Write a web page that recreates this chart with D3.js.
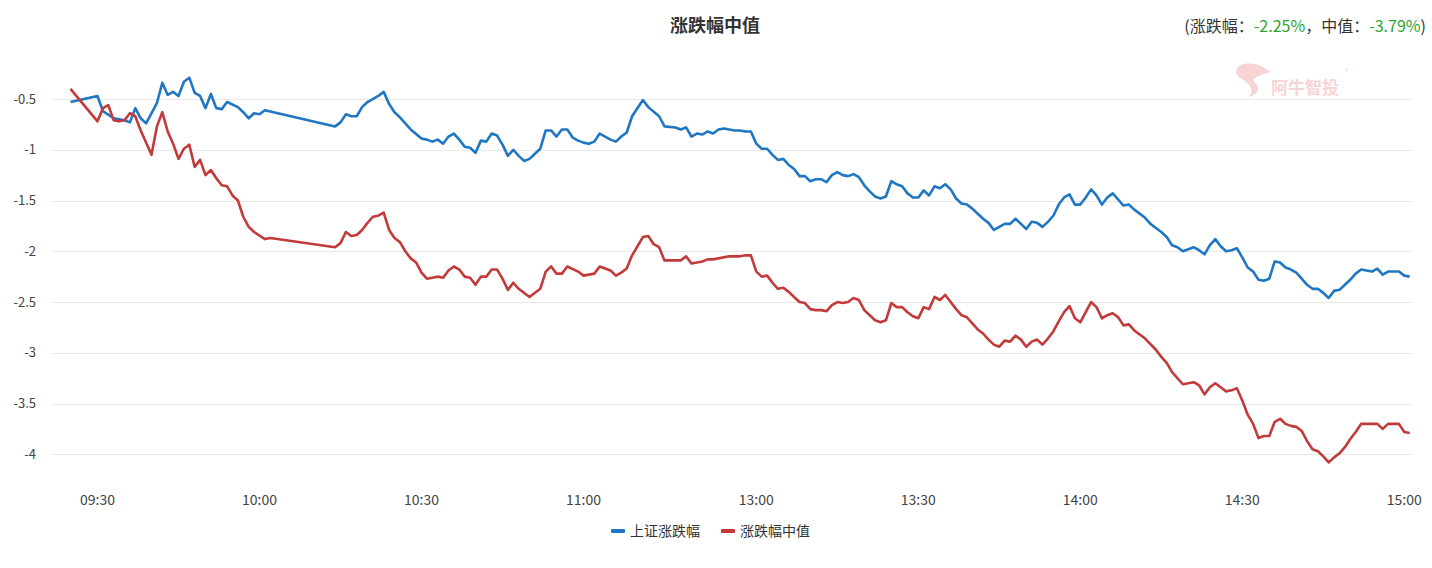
<!DOCTYPE html>
<html><head><meta charset="utf-8">
<script src="https://cdn.jsdelivr.net/npm/d3@7"></script>
<style>body{margin:0;background:#fff} svg{display:block}</style>
</head><body><svg id="c" width="1432" height="568"></svg>
<script>
// minute slots: 0 = 09:25, 5 = 09:30 ... 125 = 11:30, 127 = 13:00 ... 247 = 15:00
const tickSlots = [5, 35, 65, 95, 127, 157, 187, 217, 247];
const tickLabels = ["09:30","10:00","10:30","11:00","13:00","13:30","14:00","14:30","15:00"];
const yTicks = [-0.5,-1,-1.5,-2,-2.5,-3,-3.5,-4];
const yTickLabels = ["-0.5","-1","-1.5","-2","-2.5","-3","-3.5","-4"];
const seriesNames = ["上证涨跌幅","涨跌幅中值"];

const shSlots = [0,5,6,8,10,11,12,13,14,16,17,18,19,20,21,22,23,24,25,26,27,28,29,31,32,33,34,35,36,49,50,51,52,53,54,55,57,58,59,60,61,63,65,66,67,68,69,70,71,72,73,74,75,76,77,78,79,80,81,82,83,84,85,86,87,88,89,90,91,92,93,94,95,96,97,98,99,100,101,102,103,104,106,107,109,110,112,113,114,115,116,117,118,119,120,121,122,123,124,125,126,127,128,129,130,131,132,133,134,135,136,137,138,139,140,141,142,143,144,145,146,147,148,149,150,151,152,153,154,155,156,157,158,159,160,161,162,163,164,165,166,167,168,169,170,171,172,173,174,175,176,177,178,179,180,181,182,183,184,185,186,187,188,189,190,191,192,193,194,195,196,197,199,200,201,202,203,204,205,206,207,208,209,210,211,212,213,214,215,216,217,218,219,220,221,222,223,224,225,226,227,228,229,230,231,232,233,234,235,236,237,238,239,240,241,242,243,244,246,247,248];
const shValues = [-0.53,-0.47,-0.62,-0.69,-0.71,-0.73,-0.59,-0.69,-0.74,-0.54,-0.34,-0.46,-0.43,-0.47,-0.33,-0.29,-0.44,-0.47,-0.59,-0.45,-0.59,-0.60,-0.53,-0.58,-0.63,-0.69,-0.64,-0.65,-0.61,-0.77,-0.73,-0.65,-0.67,-0.67,-0.58,-0.53,-0.47,-0.43,-0.55,-0.63,-0.68,-0.80,-0.89,-0.90,-0.92,-0.90,-0.94,-0.87,-0.84,-0.90,-0.97,-0.98,-1.03,-0.91,-0.92,-0.84,-0.86,-0.95,-1.06,-1.00,-1.06,-1.11,-1.09,-1.04,-0.99,-0.81,-0.81,-0.87,-0.80,-0.80,-0.88,-0.91,-0.93,-0.94,-0.92,-0.84,-0.87,-0.90,-0.92,-0.87,-0.83,-0.67,-0.51,-0.58,-0.67,-0.77,-0.78,-0.80,-0.78,-0.87,-0.84,-0.85,-0.82,-0.84,-0.80,-0.79,-0.80,-0.81,-0.81,-0.82,-0.82,-0.94,-0.99,-0.99,-1.05,-1.10,-1.09,-1.15,-1.19,-1.26,-1.26,-1.31,-1.29,-1.29,-1.32,-1.25,-1.22,-1.25,-1.26,-1.24,-1.27,-1.35,-1.41,-1.46,-1.48,-1.46,-1.31,-1.34,-1.36,-1.43,-1.47,-1.47,-1.40,-1.45,-1.36,-1.38,-1.34,-1.39,-1.48,-1.53,-1.54,-1.58,-1.63,-1.68,-1.72,-1.79,-1.76,-1.73,-1.73,-1.68,-1.73,-1.78,-1.71,-1.72,-1.76,-1.71,-1.65,-1.54,-1.47,-1.44,-1.54,-1.54,-1.47,-1.39,-1.45,-1.54,-1.47,-1.43,-1.49,-1.55,-1.54,-1.59,-1.67,-1.73,-1.77,-1.81,-1.86,-1.94,-1.96,-2.00,-1.98,-1.96,-1.99,-2.03,-1.94,-1.88,-1.95,-2.00,-1.99,-1.97,-2.06,-2.16,-2.20,-2.28,-2.29,-2.27,-2.10,-2.11,-2.16,-2.18,-2.21,-2.27,-2.33,-2.37,-2.37,-2.41,-2.46,-2.39,-2.38,-2.33,-2.28,-2.22,-2.18,-2.19,-2.20,-2.17,-2.23,-2.20,-2.20,-2.24,-2.25];

const medSlots = [0,5,6,7,8,9,10,11,12,13,15,16,17,18,19,20,21,22,23,24,25,26,27,28,29,30,31,32,33,34,36,37,49,50,51,52,53,54,55,56,57,58,59,60,61,62,63,64,65,66,67,68,69,70,71,72,73,74,75,76,77,78,79,80,81,82,83,85,87,88,89,90,91,92,94,95,97,98,100,101,102,103,104,106,107,108,109,110,113,114,115,117,118,119,122,124,125,126,127,128,129,130,131,132,133,134,135,136,137,138,139,140,141,142,143,144,145,146,147,148,149,150,151,152,153,154,155,156,157,158,159,160,161,162,163,164,165,166,167,168,169,170,171,172,173,174,175,176,177,178,179,180,181,182,183,184,185,186,187,188,189,190,191,192,193,194,195,196,197,199,201,202,203,204,206,207,208,209,210,211,212,213,214,215,216,217,218,219,220,221,222,223,224,225,226,227,228,229,230,231,232,233,234,235,236,237,238,239,242,243,244,246,247,248];
const medValues = [-0.40,-0.72,-0.59,-0.56,-0.71,-0.72,-0.71,-0.64,-0.67,-0.81,-1.05,-0.77,-0.63,-0.82,-0.94,-1.09,-0.99,-0.95,-1.17,-1.10,-1.25,-1.20,-1.28,-1.35,-1.36,-1.45,-1.50,-1.66,-1.76,-1.81,-1.88,-1.87,-1.96,-1.92,-1.81,-1.85,-1.84,-1.79,-1.72,-1.66,-1.65,-1.62,-1.79,-1.87,-1.91,-2.00,-2.07,-2.11,-2.21,-2.27,-2.26,-2.25,-2.26,-2.19,-2.15,-2.18,-2.25,-2.26,-2.33,-2.25,-2.25,-2.18,-2.18,-2.27,-2.38,-2.31,-2.37,-2.45,-2.37,-2.20,-2.15,-2.22,-2.22,-2.15,-2.20,-2.24,-2.22,-2.15,-2.19,-2.24,-2.21,-2.17,-2.04,-1.86,-1.85,-1.93,-1.96,-2.09,-2.09,-2.05,-2.12,-2.10,-2.08,-2.08,-2.05,-2.05,-2.04,-2.04,-2.20,-2.25,-2.24,-2.31,-2.37,-2.36,-2.40,-2.45,-2.50,-2.51,-2.57,-2.58,-2.58,-2.59,-2.53,-2.50,-2.51,-2.50,-2.46,-2.48,-2.58,-2.63,-2.68,-2.70,-2.68,-2.51,-2.55,-2.55,-2.60,-2.64,-2.66,-2.55,-2.57,-2.45,-2.48,-2.43,-2.50,-2.57,-2.63,-2.65,-2.71,-2.77,-2.81,-2.87,-2.92,-2.94,-2.88,-2.89,-2.83,-2.87,-2.94,-2.89,-2.87,-2.92,-2.86,-2.79,-2.69,-2.60,-2.54,-2.66,-2.70,-2.60,-2.50,-2.55,-2.66,-2.63,-2.61,-2.65,-2.73,-2.72,-2.78,-2.86,-2.97,-3.04,-3.10,-3.19,-3.31,-3.30,-3.29,-3.32,-3.41,-3.34,-3.30,-3.34,-3.38,-3.37,-3.35,-3.47,-3.61,-3.70,-3.84,-3.82,-3.82,-3.68,-3.65,-3.70,-3.72,-3.73,-3.77,-3.87,-3.95,-3.97,-4.02,-4.08,-4.03,-3.99,-3.93,-3.85,-3.78,-3.70,-3.70,-3.75,-3.70,-3.70,-3.78,-3.79];

const headerParts = [["(涨跌幅：","#333"],["-2.25%","#2ea52e"],["，中值：","#333"],["-3.79%","#2ea52e"],[")","#333"]];

const FONT = "'Noto Sans CJK SC','Noto Sans',sans-serif";
const svg = d3.select("#c");
const x = d3.scaleLinear().domain([0, 247]).range([70.5, 1404.3]);
const y = d3.scaleLinear().domain([-4, -0.5]).range([454.3, 99]);

// grid lines
svg.append("g").selectAll("line").data(yTicks).join("line")
  .attr("x1", 52).attr("x2", 1412)
  .attr("y1", d => Math.round(y(d)) + 0.5).attr("y2", d => Math.round(y(d)) + 0.5)
  .attr("stroke", "#e9e9e9").attr("stroke-width", 1);

// y labels
svg.append("g").selectAll("text").data(yTicks).join("text")
  .attr("x", 36).attr("y", d => y(d)).attr("dy", "0.35em")
  .attr("text-anchor", "end").attr("font-family", FONT).attr("font-size", 13)
  .attr("fill", "#444").text((d, i) => yTickLabels[i]);

// x labels
svg.append("g").selectAll("text").data(tickSlots).join("text")
  .attr("x", d => x(d)).attr("y", 500).attr("dy", "0.35em")
  .attr("text-anchor", "middle").attr("font-family", FONT).attr("font-size", 14)
  .attr("fill", "#444").text((d, i) => tickLabels[i]);

// watermark
const wm = svg.append("g").attr("opacity", 0.5);
wm.append("path")
  .attr("d", "M1236,71 C1237,62 1256,61 1266,69 L1271,72 C1263,74 1257,76 1253,80 C1259,86 1262,93 1248,97 C1254,92 1252,86 1244,80 C1240,78 1236,76 1236,71 Z")
  .attr("fill", "#f2a9ab");
wm.append("text").attr("x", 1271).attr("y", 94).attr("font-family", FONT)
  .attr("font-size", 17).attr("font-weight", "bold").attr("fill", "#f2a9ab").text("阿牛智投");
wm.append("text").attr("x", 1345).attr("y", 74).attr("font-family", FONT)
  .attr("font-size", 7).attr("fill", "#f2a9ab").text("®");

// lines
const line = d3.line().x(d => x(d[0])).y(d => y(d[1]));
const shData = shSlots.map((s, i) => [s, shValues[i]]);
const medData = medSlots.map((s, i) => [s, medValues[i]]);
const colors = ["#1f77c3", "#c23a3a"];
svg.append("path").datum(shData).attr("d", line).attr("fill", "none")
  .attr("stroke", colors[0]).attr("stroke-width", 2.6).attr("stroke-linejoin", "round");
svg.append("path").datum(medData).attr("d", line).attr("fill", "none")
  .attr("stroke", colors[1]).attr("stroke-width", 2.6).attr("stroke-linejoin", "round");

// title
svg.append("text").attr("x", 715).attr("y", 26).attr("dy", "0.35em").attr("text-anchor", "middle")
  .attr("font-family", FONT).attr("font-size", 18).attr("font-weight", "bold").attr("fill", "#333")
  .text("涨跌幅中值");

// header right
const ht = svg.append("text").attr("x", 1426).attr("y", 26).attr("dy", "0.35em").attr("text-anchor", "end")
  .attr("font-family", FONT).attr("font-size", 16);
headerParts.forEach(p => ht.append("tspan").attr("fill", p[1]).text(p[0]));

// legend
const legendX = [611, 721];
const lg = svg.append("g").selectAll("g").data(seriesNames).join("g")
  .attr("transform", (d, i) => `translate(${legendX[i]},531)`);
lg.append("rect").attr("x", 0).attr("y", -2).attr("width", 14).attr("height", 4).attr("rx", 1)
  .attr("fill", (d, i) => colors[i]);
lg.append("text").attr("x", 19).attr("y", 0).attr("dy", "0.35em").attr("font-family", FONT)
  .attr("font-size", 14).attr("fill", "#333").text(d => d);
</script></body></html>
